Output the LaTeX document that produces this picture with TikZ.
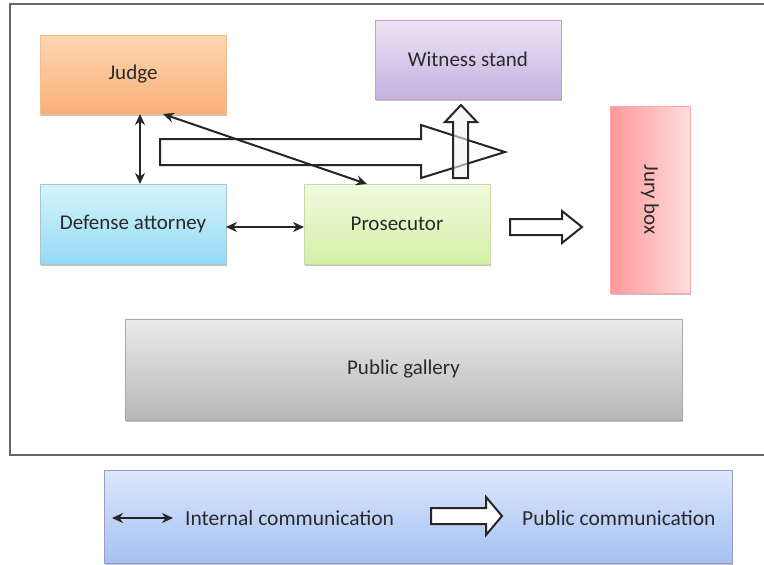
\documentclass[tikz,border=0pt]{standalone}
\usepackage{fontspec}
\setmainfont{Carlito}
\usetikzlibrary{arrows.meta,shadows,calc}

\definecolor{txt}{HTML}{2A2A2A}
\definecolor{frame}{HTML}{666666}

\tikzset{
  box/.style={rectangle, inner sep=0pt, outer sep=0pt, draw=#1, line width=0.8pt,
    font=\fontsize{21}{24}\selectfont, text=txt,
    drop shadow={shadow xshift=1.2pt, shadow yshift=-1.8pt, opacity=0.4, fill=black!60}},
  internal/.style={{Stealth[length=11pt,width=10pt]}-{Stealth[length=11pt,width=10pt]}, line width=2pt, draw=black!85},
  hollow/.style={draw=black!85, line width=2pt, line join=miter, fill=white},
  legendtext/.style={font=\fontsize{21.5}{24}\selectfont, text=txt, anchor=west, inner sep=0pt}
}

\begin{document}
\begin{tikzpicture}[x=1pt,y=-1pt]
\useasboundingbox (0,0) rectangle (764,565);
\clip (0,0) rectangle (764,565);

% courtroom outline
\draw[frame, line width=2pt] (10,4) rectangle (790,455);

% participants
\node[box=orange!60!brown!50, top color={rgb,255:red,253;green,214;blue,178}, bottom color={rgb,255:red,249;green,176;blue,120},
  minimum width=186pt, minimum height=79pt] (judge) at (133,74.5) {Judge};
\node[box=violet!40, top color={rgb,255:red,236;green,228;blue,245}, bottom color={rgb,255:red,196;green,178;blue,224},
  minimum width=186pt, minimum height=79pt] (witness) at (468,59.5) {Witness stand};
\node[box=red!35, left color={rgb,255:red,255;green,152;blue,152}, right color={rgb,255:red,255;green,222;blue,222},
  minimum width=80pt, minimum height=187pt] (jury) at (650,199.5) {};
\node[rotate=-90, font=\fontsize{21}{24}\selectfont, text=txt] (jurylabel) at (jury.center) {Jury box};
\node[box=cyan!35!gray!60, top color={rgb,255:red,214;green,244;blue,252}, bottom color={rgb,255:red,148;green,218;blue,244},
  minimum width=186pt, minimum height=80pt] (defense) at (133,224) {Defense attorney};
\node[box=lime!40!gray!50, top color={rgb,255:red,240;green,250;blue,222}, bottom color={rgb,255:red,212;green,240;blue,166},
  minimum width=186pt, minimum height=80pt] (prosecutor) at (397,224) {Prosecutor};
\node[box=gray!70, top color={rgb,255:red,234;green,234;blue,234}, bottom color={rgb,255:red,184;green,184;blue,184},
  minimum width=557pt, minimum height=101pt] (gallery) at (403.5,369.5) {Public gallery};

% public communication arrows
\draw[hollow] (160,139) -- (421,139) -- (421,125) -- (505,152) -- (421,178) -- (421,165) -- (160,165) -- cycle;
\draw[hollow, fill=gray!12, fill opacity=0.6] (453,178) -- (453,122) -- (445,122) -- (461,105) -- (477,122) -- (468,122) -- (468,178) -- cycle;
\draw[hollow] (510,219) -- (562,219) -- (562,211) -- (582,227) -- (562,243) -- (562,235) -- (510,235) -- cycle;

% internal communication arrows
\coordinate (jA) at ([xshift=7pt]judge.south);
\coordinate (dA) at ([xshift=7pt]defense.north);
\coordinate (jB) at ([xshift=30pt]judge.south);
\coordinate (pB) at ([xshift=-30pt]prosecutor.north);
\coordinate (dC) at ([yshift=-3pt]defense.east);
\coordinate (pC) at ([yshift=-3pt]prosecutor.west);
\draw[internal] (jA) -- (dA);
\draw[internal] (jB) -- (pB);
\draw[internal] (dC) -- (pC);

% legend
\node[box=blue!30!gray!60, top color={rgb,255:red,220;green,231;blue,252}, bottom color={rgb,255:red,165;green,193;blue,243},
  minimum width=628pt, minimum height=93pt] (legend) at (418,516.5) {};
\coordinate (lA) at (112,518);
\coordinate (lB) at (173,518);
\draw[internal] (lA) -- (lB);
\node[legendtext] (linternal) at (185,518) {Internal communication};
\draw[hollow] (431,508) -- (486,508) -- (486,497) -- (502,516) -- (486,535) -- (486,524) -- (431,524) -- cycle;
\node[legendtext] (lpublic) at (522,518) {Public communication};
\end{tikzpicture}
\end{document}
